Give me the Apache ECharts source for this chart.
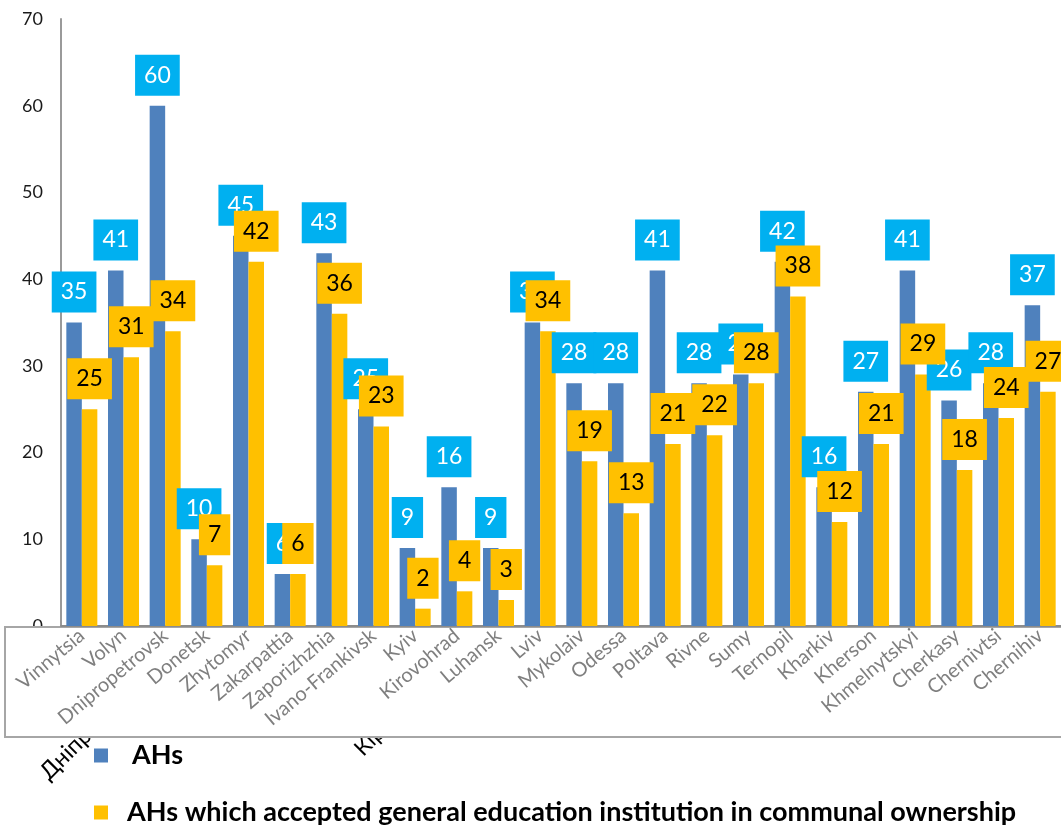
<!DOCTYPE html>
<html>
<head>
<meta charset="utf-8">
<script src="https://cdn.jsdelivr.net/npm/echarts@6/dist/echarts.min.js"></script>
<style>
html,body{margin:0;padding:0;background:#fff;}
#chart{width:1061px;height:825px;}
</style>
</head>
<body>
<div id="chart"></div>
<script>
const categories = ["Vinnytsia","Volyn","Dnipropetrovsk","Donetsk","Zhytomyr","Zakarpattia","Zaporizhzhia","Ivano-Frankivsk","Kyiv","Kirovohrad","Luhansk","Lviv","Mykolaiv","Odessa","Poltava","Rivne","Sumy","Ternopil","Kharkiv","Kherson","Khmelnytskyi","Cherkasy","Chernivtsi","Chernihiv"];
const ahs = [35,41,60,10,45,6,43,25,9,16,9,35,28,28,41,28,29,42,16,27,41,26,28,37];
const ahsCommunal = [25,31,34,7,42,6,36,23,2,4,3,34,19,13,21,22,28,38,12,21,29,18,24,27];
const seriesNames = ["AHs","AHs which accepted general education institution in communal ownership"];
const yTicks = {min:0, max:70, interval:10};

const chart = echarts.init(document.getElementById('chart'));
const FONT = 'Lato';
function lbl(bg, fg){
  return {show:true, position:'top', distance:10, backgroundColor:bg, color:fg,
    fontFamily:FONT, fontSize:23, lineHeight:23, padding:[9,9,9,9]};
}
function legendItem(name, top, padLeft){
  return {
    orient:'vertical', left:89, top:top, itemWidth:14, itemHeight:14,
    icon:'rect',
    textStyle:{fontFamily:FONT, fontSize:27, fontWeight:'bold', color:'#000', lineHeight:26, padding:[0,0,0,padLeft]},
    data:[name]
  };
}
chart.setOption({
  animation:false,
  textStyle:{fontFamily:FONT},
  grid:{left:61, right:-9, top:19, bottom:199, containLabel:false},
  legend:[legendItem(seriesNames[0], 737, 19), legendItem(seriesNames[1], 794, 14)],
  xAxis:{
    type:'category', data:categories, z:10,
    axisLine:{lineStyle:{color:'#8c8c8c', width:2}},
    axisTick:{show:false},
    axisLabel:{interval:0, rotate:40, color:'#7f7f7f', fontSize:20, margin:7, fontFamily:FONT}
  },
  yAxis:{
    type:'value', min:yTicks.min, max:yTicks.max, interval:yTicks.interval, z:0,
    axisLine:{show:true, lineStyle:{color:'#9a9a9a', width:2}},
    axisTick:{show:false},
    splitLine:{show:false},
    axisLabel:{color:'#1a1a1a', fontSize:18, margin:18, fontFamily:FONT}
  },
  graphic:[
    {type:'text', z:0, x:52, y:784, rotation:Math.PI/4,
      style:{text:'Дніпропетровська', fill:'#000', font:'23px Lato', textVerticalAlign:'bottom'}},
    {type:'text', z:0, x:366, y:760, rotation:Math.PI/4,
      style:{text:'Кіровоградська', fill:'#000', font:'22px Lato', textVerticalAlign:'bottom'}},
    {type:'rect', z:5, shape:{x:5, y:627, width:1070, height:110},
      style:{fill:'#fff', stroke:'#a6a6a6', lineWidth:2}}
  ],
  series:[
    {name:seriesNames[0], type:'bar', data:ahs, barWidth:15.5, barGap:'0%', z:10,
      itemStyle:{color:'#4F81BD'}, label:lbl('#00B0F0','#fff')},
    {name:seriesNames[1], type:'bar', data:ahsCommunal, barWidth:15.5, barGap:'0%', z:10,
      itemStyle:{color:'#FFC000'}, label:lbl('#FFC000','#000')}
  ]
});
</script>
</body>
</html>
